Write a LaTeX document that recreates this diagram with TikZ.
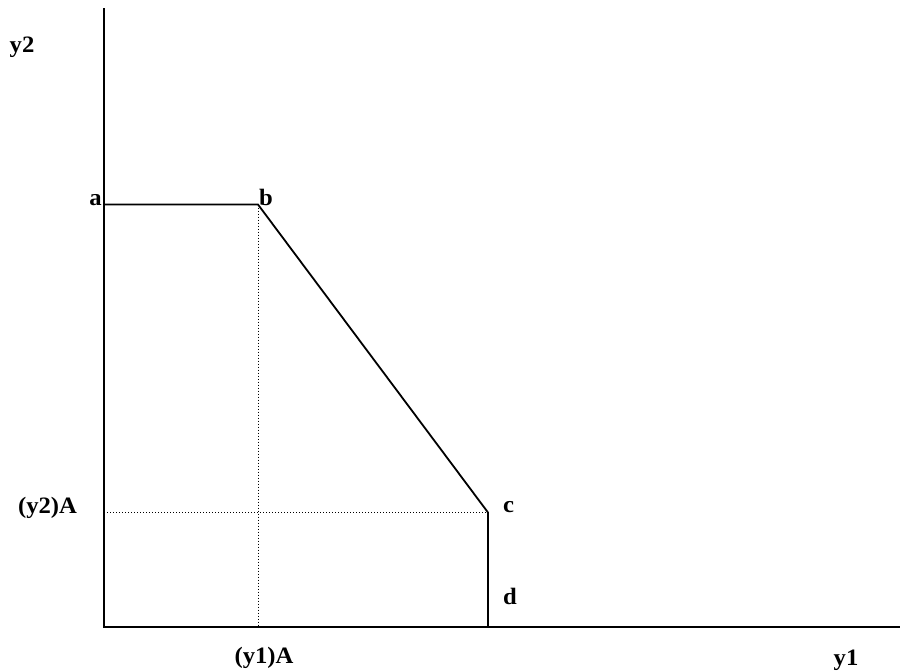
\documentclass[tikz,border=0pt]{standalone}
\usepackage{fontspec}
\setmainfont{Liberation Serif}
\newcommand\mylbl[1]{\scalebox{1.05}[1]{\bfseries #1}}
\tikzset{
  axisline/.style={line width=1.8pt},
  curveline/.style={line width=1.8pt},
  guideline/.style={line width=1pt, dotted},
  lbl/.style={inner sep=0pt, font=\fontsize{23.5}{27}\selectfont}
}
\begin{document}
\begin{tikzpicture}[x=1pt,y=-1pt]
\useasboundingbox (0,0) rectangle (901,670);
\coordinate (o) at (104,627);
\coordinate (ytop) at (104,8);
\coordinate (xend) at (900,627);
\coordinate (a) at (104,204.5);
\coordinate (b) at (258,204.5);
\coordinate (c) at (488,512.5);
\coordinate (d) at (488,627);
\coordinate (bfoot) at (258,627);
\coordinate (cleft) at (104,512.5);
\draw[axisline] (ytop) -- (o) -- (xend);
\draw[curveline] (a) -- (b) -- (c) -- (d);
\draw[guideline] (b) -- (bfoot);
\draw[guideline] (cleft) -- (c);
\node[lbl, anchor=base] (ly2) at (22,52) {\mylbl{y2}};
\node[lbl, anchor=base east] (la) at (102,205) {\mylbl{a}};
\node[lbl, anchor=base west] (lb) at (259,205) {\mylbl{b}};
\node[lbl, anchor=base] (ly2A) at (47.5,513) {\mylbl{(y2)A}};
\node[lbl, anchor=base west] (lc) at (503,512) {\mylbl{c}};
\node[lbl, anchor=base west] (ld) at (503,604) {\mylbl{d}};
\node[lbl, anchor=base] (ly1A) at (264,663) {\mylbl{(y1)A}};
\node[lbl, anchor=base] (ly1) at (846,665) {\mylbl{y1}};
\end{tikzpicture}
\end{document}
